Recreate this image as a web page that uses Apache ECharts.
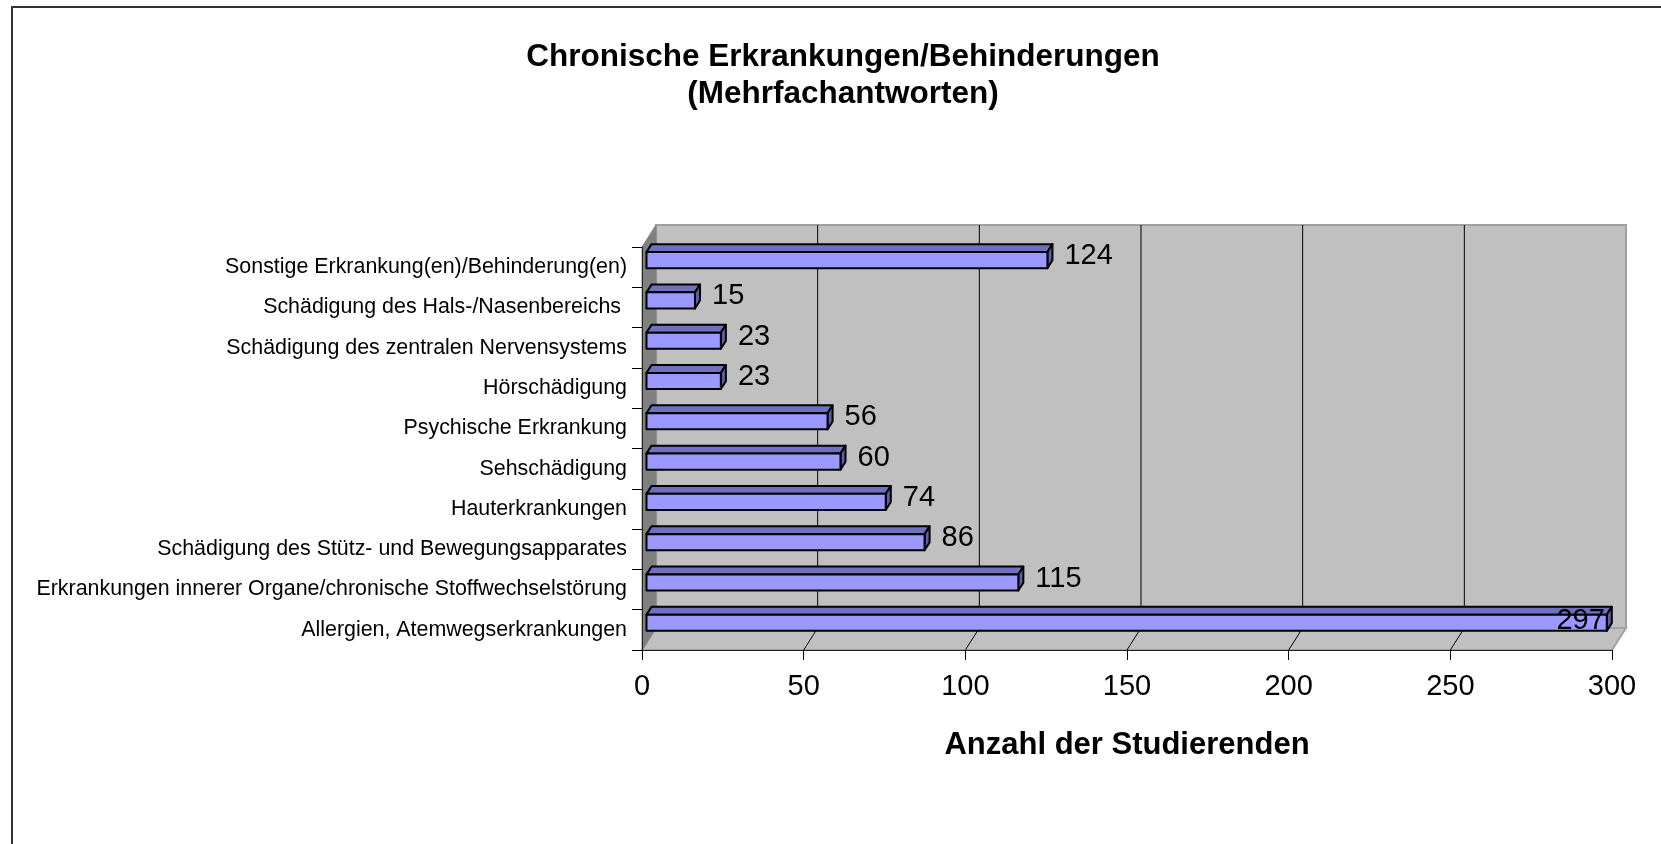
<!DOCTYPE html>
<html>
<head>
<meta charset="utf-8">
<title>Chronische Erkrankungen/Behinderungen</title>
<script src="https://cdn.jsdelivr.net/npm/echarts@6/dist/echarts.min.js"></script>
<style>
  html, body { margin: 0; padding: 0; background: #fff; }
  #chart { width: 1661px; height: 844px; }
</style>
</head>
<body>
<div id="chart"></div>
<script>
// Kategorien von unten nach oben, so wie die Kategorieachse zaehlt
var categories = [
  "Allergien, Atemwegserkrankungen",
  "Erkrankungen innerer Organe/chronische Stoffwechselstörung",
  "Schädigung des Stütz- und Bewegungsapparates",
  "Hauterkrankungen",
  "Sehschädigung",
  "Psychische Erkrankung",
  "Hörschädigung",
  "Schädigung des zentralen Nervensystems",
  "Schädigung des Hals-/Nasenbereichs ",
  "Sonstige Erkrankung(en)/Behinderung(en)"
];
var values = [297, 115, 86, 74, 60, 56, 23, 23, 15, 124];
var axisMax = 300;
var axisStep = 50;

var FONT = '"Liberation Sans", Arial, sans-serif';
// Excel-3D: Tiefe der Waende und Lage der Balken in der Tiefe
var DEPTH = [14, -22];
var BAR_FRONT = 0.32;
var BAR_DEPTH = 0.36;

// Rueckwand, Boden, Seitenwand und Gitterlinien
function renderWalls(params, api) {
  var cs = params.coordSys;
  var x0 = cs.x, y0 = cs.y, x1 = cs.x + cs.width, y1 = cs.y + cs.height;
  var dx = DEPTH[0], dy = DEPTH[1];
  var kids = [];
  kids.push({
    type: "rect",
    shape: { x: x0 + dx, y: y0 + dy, width: cs.width, height: cs.height },
    style: { fill: "#c0c0c0", stroke: "#a0a0a0", lineWidth: 2 }
  });
  kids.push({
    type: "polygon",
    shape: { points: [[x0, y1], [x0 + dx, y1 + dy], [x1 + dx, y1 + dy], [x1, y1]] },
    style: { fill: "#c0c0c0", stroke: "#a0a0a0", lineWidth: 2 }
  });
  kids.push({
    type: "polygon",
    shape: { points: [[x0, y0], [x0 + dx, y0 + dy], [x0 + dx, y1 + dy], [x0, y1]] },
    style: { fill: "#808080", stroke: "#808080", lineWidth: 1 }
  });
  for (var v = axisStep; v < axisMax; v += axisStep) {
    var px = api.coord([v, 0])[0];
    kids.push({
      type: "line",
      shape: { x1: px + dx, y1: y0 + dy, x2: px + dx, y2: y1 + dy },
      style: { stroke: "#000", lineWidth: 1 }
    });
    kids.push({
      type: "line",
      shape: { x1: px, y1: y1, x2: px + dx, y2: y1 + dy },
      style: { stroke: "#000", lineWidth: 1 }
    });
  }
  return { type: "group", children: kids };
}

// 3D-Balken: Vorderseite, Oberseite, rechte Seite + Wert
function renderBar(params, api) {
  var cs = params.coordSys;
  var v = api.value(0);
  var ci = api.value(1);
  var start = api.coord([0, ci]);
  var end = api.coord([v, ci]);
  var band = api.size([0, 1])[1];
  var fx = DEPTH[0] * BAR_FRONT, fy = DEPTH[1] * BAR_FRONT;
  var tx = DEPTH[0] * BAR_DEPTH, ty = DEPTH[1] * BAR_DEPTH;
  var h = band * 0.4;
  var xa = start[0] + fx, xb = end[0] + fx, yc = start[1] + fy;
  var ya = yc - h / 2, yb = yc + h / 2;
  var line = { stroke: "#000", lineWidth: 2, lineJoin: "round" };

  var lx = xb + tx + 12, ly = yc - 4, align = "left";
  if (lx + 50 > cs.x + cs.width + DEPTH[0]) {
    lx = xb - 2; ly = yc - 2; align = "right";
  }
  return {
    type: "group",
    children: [
      { type: "polygon", shape: { points: [[xa, ya], [xa + tx, ya + ty], [xb + tx, ya + ty], [xb, ya]] },
        style: Object.assign({ fill: "#7070c2" }, line) },
      { type: "polygon", shape: { points: [[xb, ya], [xb + tx, ya + ty], [xb + tx, yb + ty], [xb, yb]] },
        style: Object.assign({ fill: "#5d5daa" }, line) },
      { type: "rect", shape: { x: xa, y: ya, width: xb - xa, height: h },
        style: Object.assign({ fill: "#9999ff" }, line) },
      { type: "text", z2: 10,
        style: { text: String(v), x: lx, y: ly, align: align, verticalAlign: "middle",
                 font: "29px " + FONT, fill: "#000" } }
    ]
  };
}

var chart = echarts.init(document.getElementById("chart"));
chart.setOption({
  animation: false,
  backgroundColor: "#fff",
  title: {
    text: "Chronische Erkrankungen/Behinderungen\n(Mehrfachantworten)",
    left: 843,
    top: 39,
    padding: 0,
    textAlign: "center",
    textStyle: { fontFamily: FONT, fontWeight: "bold", fontSize: 31.5, lineHeight: 37, color: "#000" }
  },
  graphic: [{
    type: "rect",
    silent: true,
    shape: { x: 12, y: 7, width: 1700, height: 900 },
    style: { fill: "none", stroke: "#333", lineWidth: 2 }
  }],
  grid: { left: 642, top: 247, width: 970, height: 403 },
  xAxis: {
    type: "value",
    min: 0,
    max: axisMax,
    interval: axisStep,
    z: 5,
    name: "Anzahl der Studierenden",
    nameLocation: "middle",
    nameGap: 80,
    nameTextStyle: { fontFamily: FONT, fontWeight: "bold", fontSize: 31, color: "#000" },
    axisLine: { show: true, lineStyle: { color: "#222", width: 1 } },
    axisTick: { show: true, length: 10, lineStyle: { color: "#000" } },
    axisLabel: { fontFamily: FONT, fontSize: 29, color: "#000", margin: 22 },
    splitLine: { show: false }
  },
  yAxis: {
    type: "category",
    data: categories,
    z: 5,
    axisLine: { show: true, lineStyle: { color: "#222", width: 1 } },
    axisTick: { show: true, length: 10, interval: 0, lineStyle: { color: "#000" } },
    axisLabel: { fontFamily: FONT, fontSize: 21.4, color: "#000", margin: 15, interval: 0 },
    splitLine: { show: false }
  },
  series: [
    {
      type: "custom",
      name: "walls",
      z: 1,
      silent: true,
      renderItem: renderWalls,
      data: [[0, 0]],
      encode: { x: 0, y: 1 }
    },
    {
      type: "custom",
      name: "Anzahl",
      z: 3,
      renderItem: renderBar,
      data: values.map(function (v, i) { return [v, i]; }),
      encode: { x: 0, y: 1 }
    }
  ]
});
</script>
</body>
</html>
